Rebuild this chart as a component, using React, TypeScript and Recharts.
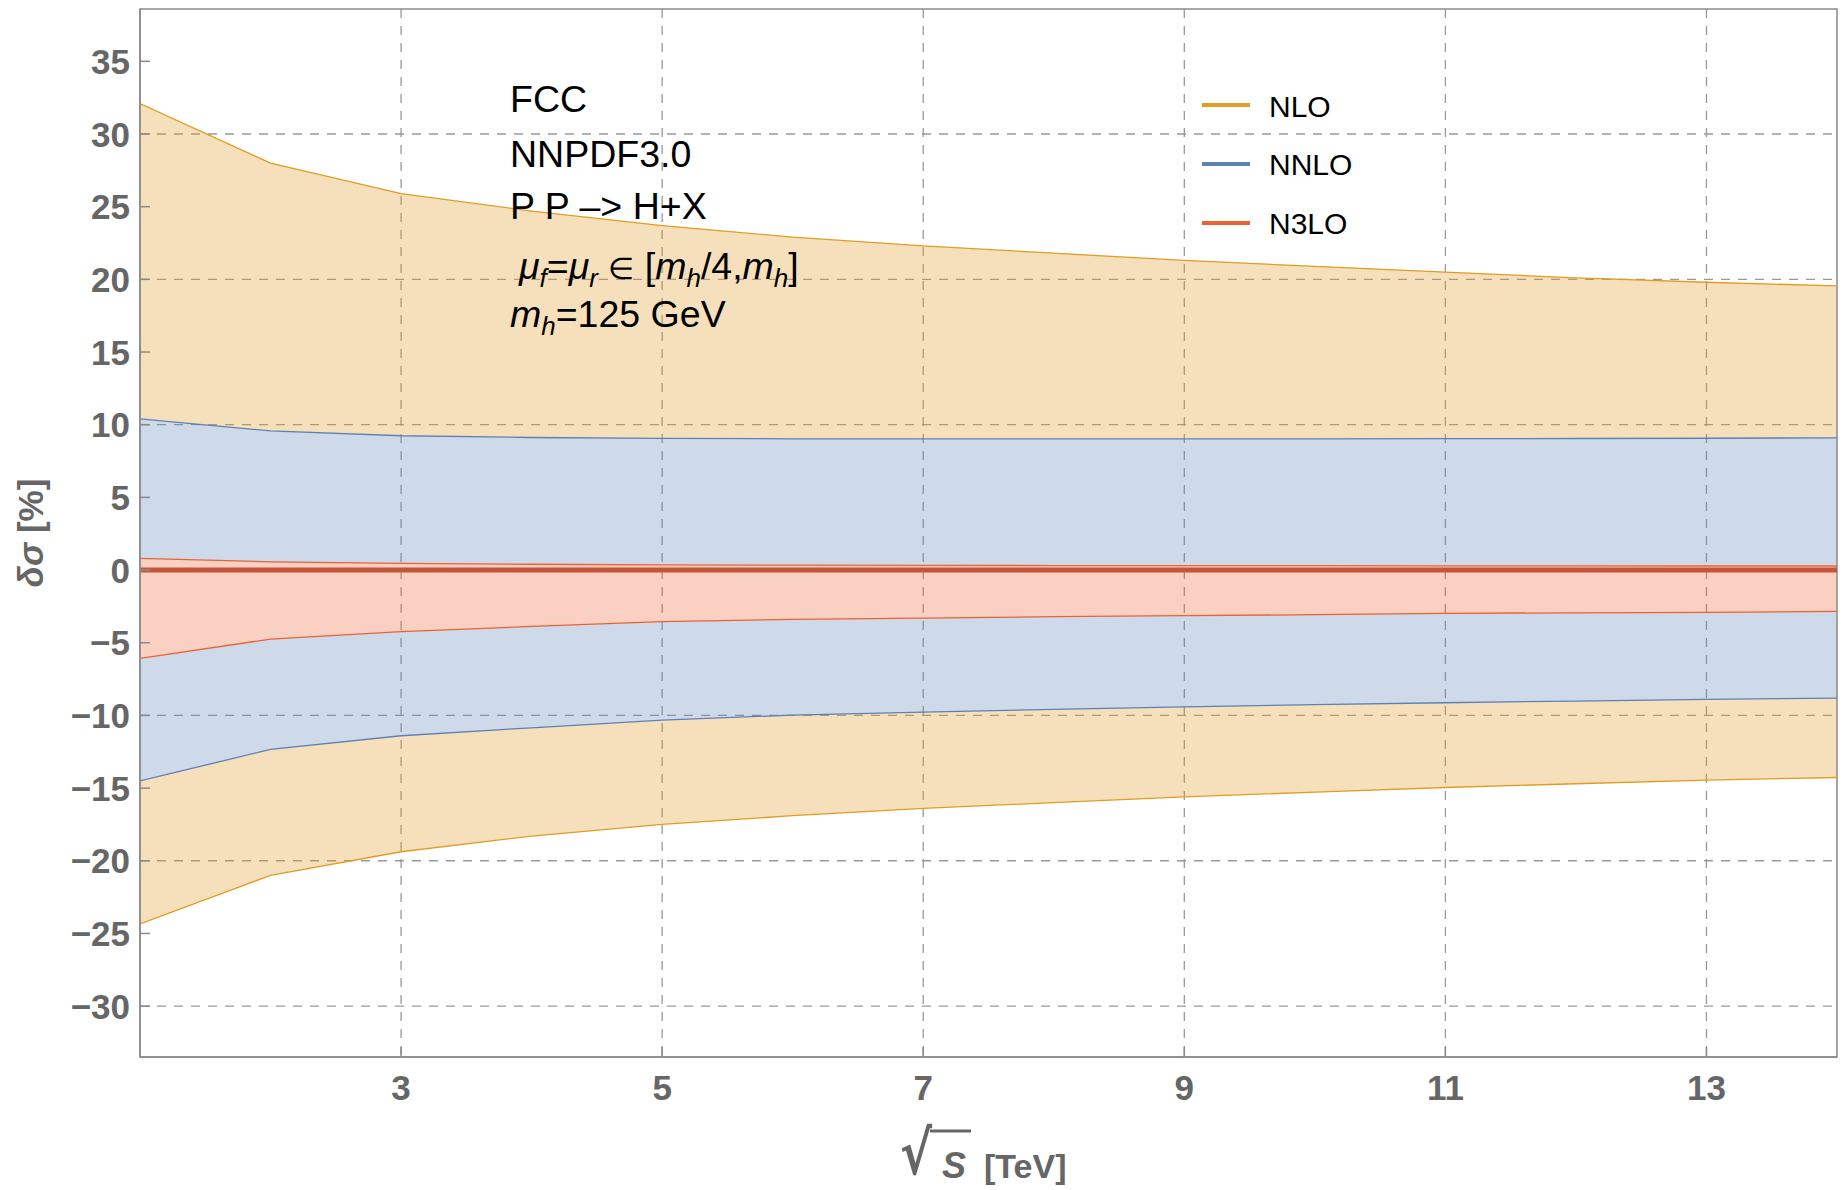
import React from 'react';
import { ComposedChart, Area, Line, XAxis, YAxis, CartesianGrid, ReferenceArea } from 'recharts';

// sqrt(S) in TeV
const energies = [1, 2, 3, 4, 5, 6, 7, 8, 9, 10, 11, 12, 13, 14];

// scale-variation envelopes in %
const nloUp = [32.1, 28.0, 25.9, 24.7, 23.7, 22.9, 22.3, 21.8, 21.3, 20.9, 20.5, 20.1, 19.8, 19.55];
const nloLo = [-24.35, -21.0, -19.38, -18.3, -17.5, -16.9, -16.4, -16.0, -15.6, -15.28, -14.96, -14.7, -14.45, -14.27];
const nnloUp = [10.4, 9.57, 9.24, 9.12, 9.06, 9.03, 9.02, 9.02, 9.02, 9.03, 9.04, 9.05, 9.07, 9.1];
const nnloLo = [-14.5, -12.34, -11.4, -10.85, -10.32, -9.98, -9.77, -9.58, -9.41, -9.26, -9.13, -9.01, -8.9, -8.81];
const n3loUp = [0.8, 0.57, 0.46, 0.4, 0.36, 0.34, 0.32, 0.31, 0.3, 0.3, 0.29, 0.29, 0.28, 0.28];
const n3loLo = [-6.08, -4.75, -4.24, -3.88, -3.55, -3.39, -3.3, -3.21, -3.14, -3.07, -2.98, -2.94, -2.91, -2.84];
const central = [0, 0, 0, 0, 0, 0, 0, 0, 0, 0, 0, 0, 0, 0];

const xTicks = [3, 5, 7, 9, 11, 13];
const yTicks = [-30, -25, -20, -15, -10, -5, 0, 5, 10, 15, 20, 25, 30, 35];
const xGrid = [3, 5, 7, 9, 11, 13];
const yGrid = [-30, -20, -10, 0, 10, 20, 30];

const legendItems = [
  { name: 'NLO', color: '#E19C24' },
  { name: 'NNLO', color: '#5E81B5' },
  { name: 'N3LO', color: '#EB6235' },
];

const NLO = '#E19C24';
const NNLO = '#5E81B5';
const N3LO = '#EB6235';
const FONT = '"Liberation Sans", Arial, sans-serif';
const AXIS = '#8a8a8a';
const TICKTEXT = '#666666';

const data = energies.map((x, i) => ({
  x,
  nloUp: nloUp[i],
  nloLo: nloLo[i],
  nnloUp: nnloUp[i],
  nnloLo: nnloLo[i],
  n3loUp: n3loUp[i],
  n3loLo: n3loLo[i],
  central: central[i],
}));

const fmt = (v: number) => (v < 0 ? '\u2212' + Math.abs(v) : String(v));

function YTick(props: any) {
  const { x, y, payload } = props;
  return (
    <g>
      <line x1={x} x2={x + 10} y1={y} y2={y} stroke={AXIS} strokeWidth={1.5} />
      <text x={x - 10} y={y + 12.5} textAnchor="end" fontSize={35} fontWeight="bold" fill={TICKTEXT} fontFamily={FONT}>
        {fmt(payload.value)}
      </text>
    </g>
  );
}

function XTick(props: any) {
  const { x, y, payload } = props;
  return (
    <g>
      <line x1={x} x2={x} y1={y} y2={y - 10} stroke={AXIS} strokeWidth={1.5} />
      <text x={x} y={y + 43} textAnchor="middle" fontSize={35} fontWeight="bold" fill={TICKTEXT} fontFamily={FONT}>
        {fmt(payload.value)}
      </text>
    </g>
  );
}

export default function App() {
  const sub = { fontSize: 26, fontStyle: 'italic' as const };
  return (
    <div style={{ position: 'absolute', left: 0, top: 0, width: 1843, height: 1190, background: '#fff' }}>
      <ComposedChart width={1843} height={1190} data={data} margin={{ top: 9, right: 6, bottom: 0, left: 0 }}>
        <CartesianGrid
          horizontalValues={yGrid}
          verticalValues={xGrid}
          stroke="#999"
          strokeWidth={1.3}
          strokeDasharray="9 8"
        />
        <XAxis
          dataKey="x"
          type="number"
          domain={[1, 14]}
          ticks={xTicks}
          height={133}
          tickSize={0}
          tickMargin={0}
          tick={<XTick />}
          axisLine={{ stroke: AXIS, strokeWidth: 1.5 }}
          tickLine={false}
          allowDataOverflow
        />
        <YAxis
          type="number"
          domain={[-33.5, 38.6]}
          ticks={yTicks}
          width={140}
          tickSize={0}
          tickMargin={0}
          tick={<YTick />}
          axisLine={{ stroke: AXIS, strokeWidth: 1.5 }}
          tickLine={false}
          allowDataOverflow
        />
        {/* bands split so they don't overlap */}
        <Area type="linear" dataKey={(d: any) => [d.nnloUp, d.nloUp]} stroke="none" fill={NLO} fillOpacity={0.31} isAnimationActive={false} activeDot={false} />
        <Area type="linear" dataKey={(d: any) => [d.nloLo, d.nnloLo]} stroke="none" fill={NLO} fillOpacity={0.31} isAnimationActive={false} activeDot={false} />
        <Area type="linear" dataKey={(d: any) => [d.n3loUp, d.nnloUp]} stroke="none" fill={NNLO} fillOpacity={0.3} isAnimationActive={false} activeDot={false} />
        <Area type="linear" dataKey={(d: any) => [d.nnloLo, d.n3loLo]} stroke="none" fill={NNLO} fillOpacity={0.3} isAnimationActive={false} activeDot={false} />
        <Area type="linear" dataKey={(d: any) => [d.n3loLo, d.n3loUp]} stroke="none" fill={N3LO} fillOpacity={0.3} isAnimationActive={false} activeDot={false} />

        <Line type="linear" dataKey="nloUp" stroke={NLO} strokeWidth={1.3} dot={false} activeDot={false} isAnimationActive={false} />
        <Line type="linear" dataKey="nloLo" stroke={NLO} strokeWidth={1.3} dot={false} activeDot={false} isAnimationActive={false} />
        <Line type="linear" dataKey="nnloUp" stroke={NNLO} strokeWidth={1.3} dot={false} activeDot={false} isAnimationActive={false} />
        <Line type="linear" dataKey="nnloLo" stroke={NNLO} strokeWidth={1.3} dot={false} activeDot={false} isAnimationActive={false} />
        <Line type="linear" dataKey="n3loUp" stroke={N3LO} strokeWidth={1.3} dot={false} activeDot={false} isAnimationActive={false} />
        <Line type="linear" dataKey="n3loLo" stroke={N3LO} strokeWidth={1.3} dot={false} activeDot={false} isAnimationActive={false} />
        <Line type="linear" dataKey="central" stroke="#c4553a" strokeWidth={5} dot={false} activeDot={false} isAnimationActive={false} />

        <ReferenceArea x1={1} x2={14} y1={-33.5} y2={38.6} fill="none" stroke={AXIS} strokeWidth={1.5} ifOverflow="visible" />
      </ComposedChart>

      <svg width={1843} height={1190} style={{ position: 'absolute', left: 0, top: 0, pointerEvents: 'none' }}>
        {/* annotation */}
        <g fontFamily={FONT} fontSize={37.5} fill="#000">
          <text x={510} y={112}>FCC</text>
          <text x={510} y={167}>NNPDF3.0</text>
          <text x={510} y={219}>P P –&gt; H+X</text>
          <text x={519} y={279}>
            <tspan fontStyle="italic">μ</tspan>
            <tspan {...sub} dy={8}>f</tspan>
            <tspan dy={-8}>=</tspan>
            <tspan fontStyle="italic">μ</tspan>
            <tspan {...sub} dy={8}>r</tspan>
            <tspan dy={-8}> </tspan>
            <tspan fontSize={30}>∈</tspan>
            <tspan> [</tspan>
            <tspan fontStyle="italic">m</tspan>
            <tspan {...sub} dy={8}>h</tspan>
            <tspan dy={-8}>/4,</tspan>
            <tspan fontStyle="italic">m</tspan>
            <tspan {...sub} dy={8}>h</tspan>
            <tspan dy={-8}>]</tspan>
          </text>
          <text x={510} y={327}>
            <tspan fontStyle="italic">m</tspan>
            <tspan {...sub} dy={8}>h</tspan>
            <tspan dy={-8}>=125 GeV</tspan>
          </text>
        </g>

        {/* legend */}
        {legendItems.map((item, i) => (
          <g key={item.name}>
            <line x1={1202} x2={1250} y1={105 + i * 59} y2={105 + i * 59} stroke={item.color} strokeWidth={4} />
            <text x={1269} y={116.5 + i * 58.7} fontFamily={FONT} fontSize={30} fill="#000">
              {item.name}
            </text>
          </g>
        ))}

        {/* y label */}
        <text
          x={43}
          y={533}
          transform="rotate(-90 43 533)"
          textAnchor="middle"
          fontFamily={FONT}
          fontSize={35}
          fontWeight="bold"
          fill={TICKTEXT}
        >
          <tspan fontStyle="italic">δσ</tspan> [%]
        </text>

        {/* x label */}
        <g fontWeight="bold" fill={TICKTEXT}>
          <text
            transform="translate(900 1174) scale(0.8 1)"
            fontSize={60}
            fontFamily='"DejaVu Sans", sans-serif'
          >
            √
          </text>
          <line x1={930} x2={971} y1={1131} y2={1131} stroke={TICKTEXT} strokeWidth={3} />
          <text x={942} y={1178} fontSize={36} fontStyle="italic" fontFamily={FONT}>S</text>
          <text x={984} y={1178} fontSize={34} fontFamily={FONT}>[TeV]</text>
        </g>
      </svg>
    </div>
  );
}
